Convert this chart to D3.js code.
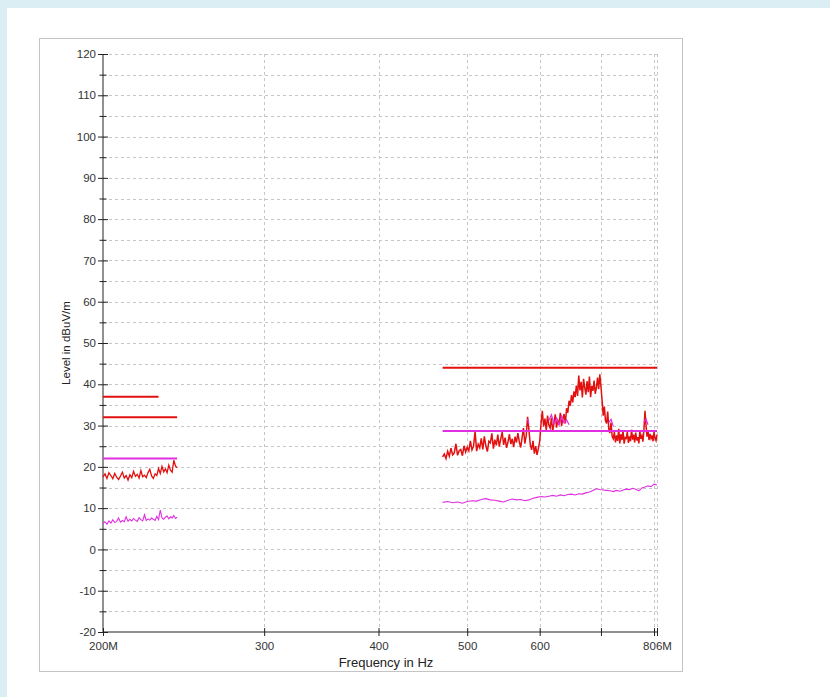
<!DOCTYPE html>
<html>
<head>
<meta charset="utf-8">
<script src="https://cdn.jsdelivr.net/npm/d3@7"></script>
<style>
  body { margin: 0; background: #fff; }
  text { font-family: "Liberation Sans", Arial, sans-serif; }
</style>
</head>
<body>
<svg id="chart" width="830" height="697"></svg>
<script>
// ---- data (frequency in MHz, level in dBuV/m) ----
const xTicks = [200, 300, 400, 500, 600, 700, 800, 806];
const xTickLabels = ['200M', '300', '400', '500', '600', '', '', '806M'];
const yMajor = [-20, -10, 0, 10, 20, 30, 40, 50, 60, 70, 80, 90, 100, 110, 120];
const yMinor = [-15, -5, 5, 15, 25, 35, 45, 55, 65, 75, 85, 95, 105, 115];

// [fStart, fEnd, level]
const redLimits = [[200, 230, 37], [200, 241, 32], [470, 806, 44]];
const magentaLimits = [[200, 241, 22], [470, 806, 28.7]];

// peak detector, low band
const peakLow = [
  [200,17.6],[201,18.3],[202,17.2],[203,18.6],[204,17.9],[205,17.1],[206,18.4],[207,17.5],
  [208,16.9],[209,17.8],[210,18.7],[211,17.3],[212,17.9],[213,16.8],[214,18.1],[215,17.4],
  [216,18.9],[217,17.7],[218,18.2],[219,17.3],[220,19.1],[221,17.6],[222,18.0],[223,17.4],
  [224,18.6],[225,19.4],[226,17.8],[227,17.2],[228,18.3],[229,17.9],[230,19.6],[231,18.4],
  [232,20.1],[233,18.8],[234,19.5],[235,18.6],[236,20.4],[237,19.2],[238,18.7],[239,21.6],
  [240,20.2],[241,19.8]
];

// average detector, low band
const avgLow = [
  [200,6.3],[201,6.7],[202,6.1],[203,6.9],[204,6.4],[205,7.2],[206,6.5],[207,6.8],
  [208,7.6],[209,6.6],[210,7.0],[211,6.7],[212,7.9],[213,6.8],[214,7.3],[215,6.9],
  [216,7.5],[217,7.1],[218,6.8],[219,7.7],[220,7.2],[221,6.9],[222,8.4],[223,7.0],
  [224,7.4],[225,7.1],[226,7.6],[227,7.3],[228,7.0],[229,8.0],[230,7.2],[231,9.5],
  [232,7.6],[233,7.3],[234,7.8],[235,8.1],[236,7.4],[237,7.9],[238,7.6],[239,8.2],
  [240,7.5],[241,7.8]
];

// peak detector, high band
const peakHigh = [
  [470,22.4],[472,23.1],[474,22.0],[476,23.8],[478,22.6],[480,24.5],[482,22.9],[484,23.4],
  [486,25.6],[488,22.8],[490,23.9],[492,24.2],[494,22.7],[496,25.1],[498,23.6],[500,24.8],
  [502,23.9],[504,26.3],[506,24.1],[508,25.0],[510,28.6],[512,23.8],[514,25.5],[516,24.6],
  [518,26.9],[520,24.2],[522,27.4],[524,25.1],[526,23.7],[528,26.2],[530,25.8],[532,28.1],
  [534,24.4],[536,26.6],[538,25.2],[540,27.8],[542,24.9],[544,26.7],[546,28.4],[548,25.3],
  [550,27.1],[552,24.6],[554,26.0],[556,27.9],[558,25.5],[560,26.8],[562,24.8],[564,27.3],
  [566,25.9],[568,28.2],[570,26.1],[572,24.7],[574,27.0],[576,29.4],[578,25.6],[580,27.5],
  [582,32.1],[584,28.9],[586,25.4],[588,24.1],[590,26.3],[592,23.2],[594,25.0],[596,22.9],
  [598,24.4],[600,26.1],[602,30.4],[604,33.6],[606,29.8],[608,31.7],[610,28.9],[612,32.4],
  [614,30.1],[616,29.4],[618,31.9],[620,28.6],[622,30.8],[624,32.7],[626,29.5],[628,31.2],
  [630,30.3],[632,33.1],[634,29.9],[636,31.6],[638,32.8],[640,30.5],[642,34.2],[644,33.1],
  [646,36.0],[648,34.8],[650,37.4],[652,35.6],[654,38.3],[656,36.9],[658,39.7],[660,37.2],
  [662,42.1],[664,38.5],[666,40.6],[668,36.8],[670,41.3],[672,39.2],[674,37.5],[676,40.8],
  [678,38.1],[680,41.9],[682,36.9],[684,39.6],[686,38.4],[688,40.9],[690,37.7],[692,39.1],
  [694,41.6],[696,38.8],[698,42.4],[700,39.5],[702,36.1],[704,32.4],[706,34.6],[708,31.2],
  [710,30.5],[712,33.4],[714,29.1],[716,28.2],[718,30.7],[720,27.4],[722,26.8],[724,28.4],
  [726,25.9],[728,27.6],[730,26.3],[732,29.2],[734,25.7],[736,27.9],[738,26.5],[740,28.8],
  [742,25.6],[744,27.1],[746,26.9],[748,28.5],[750,25.8],[752,27.4],[754,26.2],[756,29.0],
  [758,26.6],[760,27.8],[762,25.9],[764,28.3],[766,26.4],[768,27.2],[770,25.7],[772,28.6],
  [774,26.8],[776,27.5],[778,26.1],[780,29.1],[782,33.6],[784,30.2],[786,27.3],[788,28.7],
  [790,26.5],[792,28.0],[794,26.9],[796,27.6],[798,26.2],[800,28.4],[802,27.0],[804,26.4],
  [806,27.8]
];

// quasi-peak fragments showing above the peak trace (null = gap)
const qpHigh = [
  [582,31.6],[584,30.4],[586,null],
  [614,31.2],[618,32.6],[622,30.4],[626,31.8],[630,30.1],[634,32.3],[638,30.6],[642,31.4],[646,30.2],[648,null],
  [714,30.8],[718,31.5],[722,29.8],[724,null],
  [780,30.9],[784,31.6],[788,30.2]
];

// average detector, high band
const avgHigh = [
  [470,11.4],[476,11.6],[482,11.3],[488,11.5],[494,11.2],[500,11.6],[506,11.8],[512,11.7],
  [518,12.1],[524,12.3],[530,12.0],[536,11.9],[542,11.7],[548,11.5],[554,11.9],[560,12.2],
  [566,12.0],[572,12.1],[578,11.8],[584,12.0],[590,12.4],[596,12.6],[602,12.8],[608,12.7],
  [614,12.9],[620,13.1],[626,12.9],[632,13.2],[638,13.0],[644,13.3],[650,13.4],[656,13.2],
  [662,13.5],[668,13.4],[674,13.7],[680,13.9],[686,14.3],[692,14.7],[698,14.5],[704,14.4],
  [710,14.3],[716,14.2],[722,14.0],[728,14.3],[734,14.1],[740,14.4],[746,14.6],[752,14.5],
  [758,14.8],[764,14.6],[770,14.2],[776,14.9],[782,15.1],[788,15.4],[794,15.2],[800,15.8],
  [806,15.6]
];

// ---- drawing ----
const svg = d3.select('#chart');
const RED = '#e31010', MAGENTA = '#e02ee0';

svg.append('rect').attr('width', 830).attr('height', 697).attr('fill', '#daeef4');
svg.append('rect').attr('x', 7).attr('y', 8).attr('width', 823).attr('height', 689).attr('fill', '#fff');
svg.append('rect').attr('x', 39.5).attr('y', 38.5).attr('width', 643).attr('height', 633)
  .attr('fill', '#fff').attr('stroke', '#c4c4c4');

const x = d3.scaleLog().domain([200, 806]).range([103, 657]);
const y = d3.scaleLinear().domain([-20, 120]).range([632, 54]);

// grid
const grid = svg.append('g').attr('stroke', '#c6c6c6').attr('stroke-dasharray', '3,3');
grid.selectAll('.hg').data(yMajor.concat(yMinor).filter(d => d > -20)).enter().append('line')
  .attr('x1', x(200)).attr('x2', x(806))
  .attr('y1', d => Math.round(y(d)) + 0.5).attr('y2', d => Math.round(y(d)) + 0.5);
grid.selectAll('.vg').data(xTicks.filter(d => d > 200)).enter().append('line')
  .attr('y1', y(120)).attr('y2', y(-20))
  .attr('x1', d => Math.round(x(d)) + 0.5).attr('x2', d => Math.round(x(d)) + 0.5);

// axes
const yAxis = svg.append('g').attr('transform', `translate(${x(200)},0)`)
  .call(d3.axisLeft(y).tickValues(yMajor).tickSize(5).tickPadding(2).tickFormat(d => String(d)));
yAxis.selectAll('.tick line').attr('x1', 5);
const yMinorAxis = svg.append('g').attr('transform', `translate(${x(200)},0)`)
  .call(d3.axisLeft(y).tickValues(yMinor).tickSize(3.5).tickFormat(''));
yMinorAxis.selectAll('.tick line').attr('x1', 3.5);
yMinorAxis.select('.domain').remove();

const xAxis = svg.append('g').attr('transform', `translate(0,${y(-20)})`)
  .call(d3.axisBottom(x).tickValues(xTicks).tickSize(4).tickPadding(6)
    .tickFormat((d, i) => xTickLabels[i]));
xAxis.selectAll('.tick line').attr('y1', -4);

[yAxis, yMinorAxis, xAxis].forEach(a => {
  a.select('.domain').attr('stroke', '#222');
  a.selectAll('.tick line').attr('stroke', '#222');
  a.selectAll('.tick text').attr('fill', '#333').attr('font-size', 11.5)
    .attr('font-family', '"Liberation Sans", Arial, sans-serif');
});
yAxis.select('.domain').attr('d', `M0,${y(120)}V${y(-20)}`);
xAxis.select('.domain').attr('d', `M${x(200)},0H${x(806)}`);

svg.append('text').attr('x', 386).attr('y', 667).attr('text-anchor', 'middle')
  .attr('font-size', 13).attr('fill', '#222').text('Frequency in Hz');
svg.append('text').attr('transform', 'translate(70,343) rotate(-90)').attr('text-anchor', 'middle')
  .attr('font-size', 11.5).attr('fill', '#222').text('Level in dBuV/m');

// traces
const line = d3.line().defined(d => d[1] !== null).x(d => x(d[0])).y(d => y(d[1]));
const plot = svg.append('g').attr('fill', 'none');

plot.append('path').datum(avgLow).attr('d', line).attr('stroke', MAGENTA).attr('stroke-width', 1.1);
plot.append('path').datum(avgHigh).attr('d', line).attr('stroke', MAGENTA).attr('stroke-width', 1.1);
plot.append('path').datum(peakLow).attr('d', line).attr('stroke', RED).attr('stroke-width', 1.3);
plot.append('path').datum(peakHigh).attr('d', line).attr('stroke', RED).attr('stroke-width', 1.5);
plot.append('path').datum(qpHigh).attr('d', line).attr('stroke', MAGENTA).attr('stroke-width', 1.2);

plot.selectAll('.rl').data(redLimits).enter().append('line')
  .attr('x1', d => x(d[0])).attr('x2', d => x(d[1]))
  .attr('y1', d => y(d[2])).attr('y2', d => y(d[2]))
  .attr('stroke', RED).attr('stroke-width', 2);
plot.selectAll('.ml').data(magentaLimits).enter().append('line')
  .attr('x1', d => x(d[0])).attr('x2', d => x(d[1]))
  .attr('y1', d => y(d[2])).attr('y2', d => y(d[2]))
  .attr('stroke', MAGENTA).attr('stroke-width', 2);
</script>
</body>
</html>
